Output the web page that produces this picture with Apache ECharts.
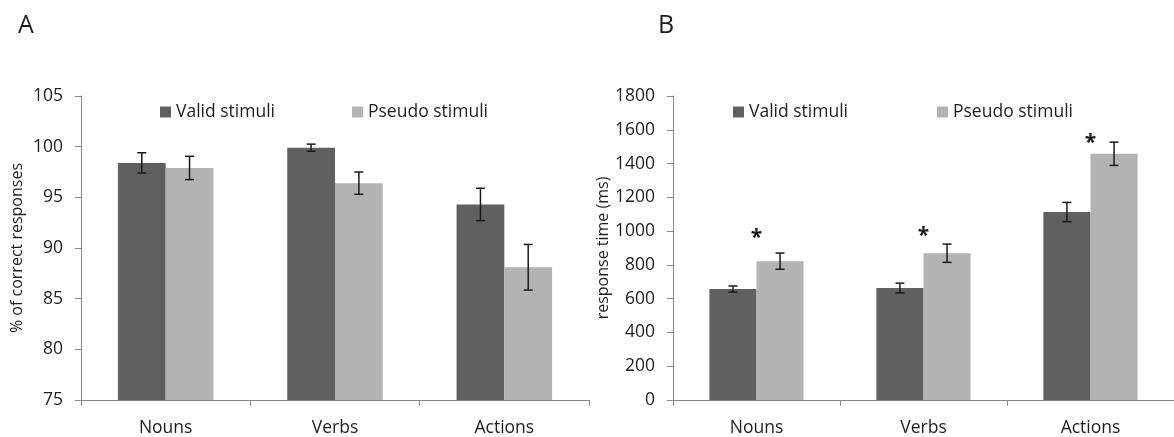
<!DOCTYPE html>
<html>
<head>
<meta charset="utf-8">
<script src="https://cdn.jsdelivr.net/npm/echarts@6/dist/echarts.min.js"></script>
<style>
html,body{margin:0;padding:0;background:#fff;}
#chart{width:1174px;height:437px;}
</style>
</head>
<body>
<div id="chart"></div>
<script>
// ---- data ----
const categories = ['Nouns', 'Verbs', 'Actions'];
const seriesNames = ['Valid stimuli', 'Pseudo stimuli'];

// Panel A: % of correct responses
const accValid = [98.4, 99.9, 94.3];
const accValidSE = [1.0, 0.35, 1.6];
const accPseudo = [97.9, 96.4, 88.1];
const accPseudoSE = [1.15, 1.1, 2.25];
const accTicks = {min: 75, max: 105, interval: 5};

// Panel B: response time (ms)
const rtValid = [657, 663, 1113];
const rtValidSE = [18, 29, 57];
const rtPseudo = [822, 869, 1458];
const rtPseudoSE = [48, 54, 69];
const rtTicks = {min: 0, max: 1800, interval: 200};

// significance markers (panel B), y position in data units
const sigMarks = ['*', '*', '*'];
const sigMarkY = [991, 1000, 1553];

const colorValid = '#606060';
const colorPseudo = '#b3b3b3';
const textColor = '#1e1e1e';
const axisColor = '#8a8a8a';
const FONT = 'Open Sans';
const LABEL_SIZE = 17.5;
const BAR_W = 0.282;

function errData(means, ses) {
  return means.map((m, i) => [i, m, ses[i]]);
}

function errRender(sign) {
  return function (params, api) {
    const i = api.value(0), m = api.value(1), se = api.value(2);
    const band = api.size([1, 0])[0];
    const top = api.coord([i, m + se]);
    const bot = api.coord([i, m - se]);
    const cx = top[0] + sign * band * BAR_W / 2;
    const cap = 4.5;
    const st = {stroke: '#1a1a1a', lineWidth: 1.5};
    return {
      type: 'group',
      children: [
        {type: 'line', shape: {x1: cx, y1: top[1], x2: cx, y2: bot[1]}, style: st},
        {type: 'line', shape: {x1: cx - cap, y1: top[1], x2: cx + cap, y2: top[1]}, style: st},
        {type: 'line', shape: {x1: cx - cap, y1: bot[1], x2: cx + cap, y2: bot[1]}, style: st}
      ]
    };
  };
}

function starRender(params, api) {
  const i = api.value(0), y = api.value(1);
  const c = api.coord([i, y]);
  return {
    type: 'text',
    x: c[0], y: c[1] + 5,
    style: {
      text: sigMarks[params.dataIndex],
      fontFamily: FONT, fontSize: 21, fontWeight: 'bold',
      fill: '#1a1a1a', align: 'center', verticalAlign: 'middle'
    }
  };
}

function xAxisCfg(gi) {
  return {
    type: 'category', gridIndex: gi, data: categories,
    axisLine: {lineStyle: {color: axisColor, width: 1}},
    axisTick: {show: true, length: 6, lineStyle: {color: axisColor}},
    axisLabel: {color: textColor, fontFamily: FONT, fontSize: LABEL_SIZE, margin: 19}
  };
}

function yAxisCfg(gi, t, name, gap) {
  return {
    type: 'value', gridIndex: gi, min: t.min, max: t.max, interval: t.interval,
    name: name, nameLocation: 'middle', nameRotate: 90, nameGap: gap,
    nameTextStyle: {color: textColor, fontFamily: FONT, fontSize: 16},
    axisLine: {show: true, lineStyle: {color: axisColor, width: 1}},
    axisTick: {show: true, length: 6, lineStyle: {color: axisColor}},
    axisLabel: {color: textColor, fontFamily: FONT, fontSize: LABEL_SIZE, margin: 18,
                formatter: v => String(v)},
    splitLine: {show: false}
  };
}

function legendCfg(name, left) {
  return {
    data: [name], left: left, top: 103, padding: 0,
    icon: 'rect', itemWidth: 11, itemHeight: 11,
    textStyle: {color: textColor, fontFamily: FONT, fontSize: LABEL_SIZE},
    selectedMode: false
  };
}

const chart = echarts.init(document.getElementById('chart'), null, {renderer: 'canvas'});
chart.setOption({
  animation: false,
  backgroundColor: '#ffffff',
  title: [
    {text: 'A', left: 13, top: 8, textStyle: {fontFamily: FONT, fontSize: 25, fontWeight: 'normal', color: textColor}},
    {text: 'B', left: 653, top: 8, textStyle: {fontFamily: FONT, fontSize: 25, fontWeight: 'normal', color: textColor}}
  ],
  legend: [
    legendCfg(seriesNames[0], 160),
    legendCfg(seriesNames[1], 352),
    legendCfg(seriesNames[0], 733),
    legendCfg(seriesNames[1], 937)
  ],
  grid: [
    {left: 81, top: 96, width: 508, height: 305},
    {left: 673, top: 96, width: 506, height: 305}
  ],
  xAxis: [xAxisCfg(0), xAxisCfg(1)],
  yAxis: [
    yAxisCfg(0, accTicks, '% of correct responses', 56),
    yAxisCfg(1, rtTicks, 'response time (ms)', 62)
  ],
  series: [
    {name: seriesNames[0], type: 'bar', xAxisIndex: 0, yAxisIndex: 0, data: accValid,
     barWidth: (BAR_W * 100) + '%', barGap: '0%', itemStyle: {color: colorValid}},
    {name: seriesNames[1], type: 'bar', xAxisIndex: 0, yAxisIndex: 0, data: accPseudo,
     barWidth: (BAR_W * 100) + '%', barGap: '0%', itemStyle: {color: colorPseudo}},
    {name: seriesNames[0], type: 'bar', xAxisIndex: 1, yAxisIndex: 1, data: rtValid,
     barWidth: (BAR_W * 100) + '%', barGap: '0%', itemStyle: {color: colorValid}},
    {name: seriesNames[1], type: 'bar', xAxisIndex: 1, yAxisIndex: 1, data: rtPseudo,
     barWidth: (BAR_W * 100) + '%', barGap: '0%', itemStyle: {color: colorPseudo}},
    {name: 'errA1', type: 'custom', xAxisIndex: 0, yAxisIndex: 0, renderItem: errRender(-1),
     data: errData(accValid, accValidSE), encode: {x: 0, y: 1}, z: 5},
    {name: 'errA2', type: 'custom', xAxisIndex: 0, yAxisIndex: 0, renderItem: errRender(1),
     data: errData(accPseudo, accPseudoSE), encode: {x: 0, y: 1}, z: 5},
    {name: 'errB1', type: 'custom', xAxisIndex: 1, yAxisIndex: 1, renderItem: errRender(-1),
     data: errData(rtValid, rtValidSE), encode: {x: 0, y: 1}, z: 5},
    {name: 'errB2', type: 'custom', xAxisIndex: 1, yAxisIndex: 1, renderItem: errRender(1),
     data: errData(rtPseudo, rtPseudoSE), encode: {x: 0, y: 1}, z: 5},
    {name: 'sig', type: 'custom', xAxisIndex: 1, yAxisIndex: 1, renderItem: starRender,
     data: sigMarkY.map((v, i) => [i, v]), encode: {x: 0, y: 1}, z: 6}
  ]
});
</script>
</body>
</html>
